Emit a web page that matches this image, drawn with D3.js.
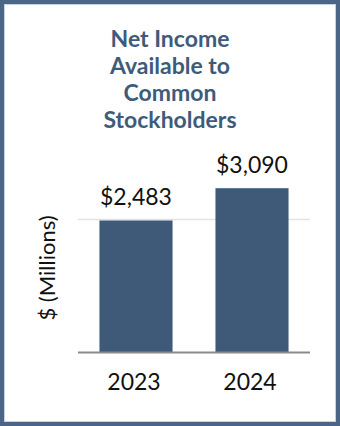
<!DOCTYPE html>
<html><head><meta charset="utf-8">
<script src="https://cdn.jsdelivr.net/npm/d3@7/dist/d3.min.js"></script>
<style>html,body{margin:0;padding:0;background:#fff;}svg{display:block;}</style>
</head><body>
<script>
const categories = ["2023", "2024"];
const values = [2483, 3090];
const valueLabels = ["$2,483", "$3,090"];
const gridTicks = [2500];
const titleLines = ["Net Income", "Available to", "Common", "Stockholders"];
const yAxisLabel = "$ (Millions)";

const W = 340, H = 426;
const svg = d3.select("body").append("svg").attr("width", W).attr("height", H);
svg.append("rect").attr("width", W).attr("height", H).attr("fill", "#fff");
// frame
svg.append("rect").attr("x", 2).attr("y", 2).attr("width", W - 4).attr("height", H - 4)
  .attr("fill", "none").attr("stroke", "#4a6585").attr("stroke-width", 4);
svg.append("rect").attr("x", 4.5).attr("y", 4.5).attr("width", W - 9).attr("height", H - 9)
  .attr("fill", "none").attr("stroke", "#c9d2dc").attr("stroke-width", 1);

// title
svg.append("g").selectAll("text").data(titleLines).join("text")
  .attr("x", 170).attr("y", (d, i) => 47 + i * 27)
  .attr("text-anchor", "middle")
  .attr("font-family", "Lato").attr("font-weight", "bold").attr("font-size", 23)
  .attr("fill", "#3f5b7a").text(d => d);

const x = d3.scaleBand().domain(categories).range([78, 310]).paddingInner(0.37).paddingOuter(0.185);
const y = d3.scaleLinear().domain([0, 3500]).range([352.5, 352.5 - 186.1]);

// grid
svg.append("g").selectAll("line").data(gridTicks).join("line")
  .attr("x1", 78).attr("x2", 310).attr("y1", d => y(d)).attr("y2", d => y(d))
  .attr("stroke", "#e2e2e2").attr("stroke-width", 1.5);

// bars
svg.append("g").selectAll("rect").data(values).join("rect")
  .attr("x", (d, i) => x(categories[i])).attr("width", x.bandwidth())
  .attr("y", d => y(d)).attr("height", d => y(0) - y(d))
  .attr("fill", "#3e5a78");

// value labels
svg.append("g").selectAll("text").data(values).join("text")
  .attr("x", (d, i) => x(categories[i]) + x.bandwidth() / 2)
  .attr("y", d => y(d) - 15)
  .attr("text-anchor", "middle")
  .attr("font-family", "Lato").attr("font-size", 23).attr("fill", "#111")
  .text((d, i) => valueLabels[i]);

// x axis
const xAxis = svg.append("g").attr("transform", `translate(0,${y(0)})`)
  .call(d3.axisBottom(x).tickSize(0).tickPadding(21));
xAxis.select(".domain").attr("stroke", "#8a8a8a").attr("stroke-width", 2).attr("d", "M78,0H310");
xAxis.selectAll("text").attr("font-family", "Lato").attr("font-size", 23).attr("fill", "#111")
  .attr("dx", -2);

// y label
svg.append("text").attr("transform", "translate(55,268) rotate(-90)")
  .attr("text-anchor", "middle").attr("font-family", "Lato").attr("font-size", 22)
  .attr("fill", "#111").text(yAxisLabel);
</script>
</body></html>
